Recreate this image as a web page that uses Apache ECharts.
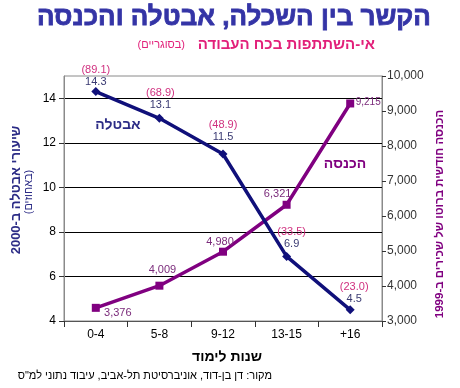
<!DOCTYPE html>
<html>
<head>
<meta charset="utf-8">
<script src="https://cdn.jsdelivr.net/npm/echarts@6/dist/echarts.min.js"></script>
<style>
html,body{margin:0;padding:0;background:#fff;}
#c{width:460px;height:388px;}
</style>
</head>
<body>
<div id="c"></div>
<script>
// ---- data ----
var categories = ['0-4', '5-8', '9-12', '13-15', '+16'];
var unemployment = [14.3, 13.1, 11.5, 6.9, 4.5];
var inactivity = [89.1, 68.9, 48.9, 33.5, 23.0];
var income = [3376, 4009, 4980, 6321, 9215];
var leftTicks = [4, 6, 8, 10, 12, 14];

// ---- label placement (style) ----
var unempLabelOffsets = [[0, -16], [1, -19], [0, -23], [5, -18], [4, -17]];
var incomeLabelOffsets = [[22, 5], [3, -16], [-3, -10], [-9, -11], [18, -1]];

var FONT = '"Liberation Sans", Arial, "DejaVu Sans", sans-serif';
var NAVY = '#10107a';
var PURPLE = '#800080';

function fmtInt(v) {
  return String(v).replace(/\B(?=(\d{3})+(?!\d))/g, ',');
}

var unempData = unemployment.map(function (v, i) {
  return {
    value: v,
    label: {
      show: true,
      position: 'inside',
      offset: unempLabelOffsets[i],
      formatter: '{p|(' + inactivity[i].toFixed(1) + ')}\n{v|' + v.toFixed(1) + '}',
      rich: {
        p: { color: '#d0307f', fontSize: 11, fontFamily: FONT, lineHeight: 12, align: 'center' },
        v: { color: '#3a3a72', fontSize: 11, fontFamily: FONT, lineHeight: 12, align: 'center' }
      }
    }
  };
});

var incomeData = income.map(function (v, i) {
  return {
    value: v,
    label: {
      show: true,
      position: 'inside',
      offset: incomeLabelOffsets[i],
      formatter: fmtInt(v),
      color: '#7a2a7a',
      fontSize: i === 4 ? 10 : 11,
      fontFamily: FONT
    }
  };
});

var chart = echarts.init(document.getElementById('c'), null, { renderer: 'canvas' });

chart.setOption({
  animation: false,
  backgroundColor: '#ffffff',
  grid: {
    left: 64, right: 78, top: 76, bottom: 67,
    show: true, borderColor: '#8a8a8a', borderWidth: 1, backgroundColor: 'transparent'
  },
  xAxis: {
    type: 'category',
    data: categories,
    boundaryGap: true,
    axisLine: { show: true, lineStyle: { color: '#555', width: 1 } },
    axisTick: { show: true, alignWithLabel: false, length: 6, lineStyle: { color: '#333' } },
    axisLabel: { color: '#000', fontSize: 12, fontFamily: FONT, margin: 8 },
    splitLine: { show: false }
  },
  yAxis: [
    {
      type: 'value',
      position: 'left',
      min: 4, max: 15, interval: 2,
      axisLine: { show: true, lineStyle: { color: '#8a8a8a' } },
      axisTick: { show: true, length: 5, lineStyle: { color: '#333' }, customValues: leftTicks },
      axisLabel: { color: '#000', fontSize: 12, fontFamily: FONT, margin: 8, customValues: leftTicks },
      splitLine: { show: true, showMinLine: false, lineStyle: { color: '#000', width: 1 } }
    },
    {
      type: 'value',
      position: 'right',
      min: 3000, max: 10000, interval: 1000,
      axisLine: { show: true, lineStyle: { color: '#8a8a8a' } },
      axisTick: { show: true, length: 4, lineStyle: { color: '#333' } },
      axisLabel: { color: '#333', fontSize: 12, fontFamily: FONT, margin: 5,
        formatter: function (v) { return fmtInt(v); } },
      splitLine: { show: false }
    }
  ],
  series: [
    {
      name: 'income',
      type: 'line',
      yAxisIndex: 1,
      data: incomeData,
      symbol: 'rect',
      symbolSize: 8,
      itemStyle: { color: PURPLE },
      lineStyle: { color: PURPLE, width: 3.5 },
      z: 3
    },
    {
      name: 'unemployment',
      type: 'line',
      yAxisIndex: 0,
      data: unempData,
      symbol: 'diamond',
      symbolSize: 9,
      itemStyle: { color: NAVY },
      lineStyle: { color: NAVY, width: 3.5 },
      z: 4
    }
  ],
  graphic: [
    { type: 'text', silent: true, z: 10,
      style: { text: 'הקשר בין השכלה, אבטלה והכנסה', x: 234, y: 18, textAlign: 'center', textVerticalAlign: 'middle',
        font: 'bold 26px ' + FONT, fill: '#3434a6', stroke: '#3434a6', lineWidth: 0.8,
        shadowColor: 'rgba(120,120,120,0.8)', shadowOffsetX: 2, shadowOffsetY: 2, shadowBlur: 1 } },
    { type: 'text', silent: true, z: 10,
      style: { text: 'אי-השתתפות בכח העבודה', x: 375, y: 45, textAlign: 'right', textVerticalAlign: 'middle',
        font: 'bold 15px ' + FONT, fill: '#e2207a' } },
    { type: 'text', silent: true, z: 10,
      style: { text: '(בסוגריים)', x: 185, y: 45, textAlign: 'right', textVerticalAlign: 'middle',
        font: '11px ' + FONT, fill: '#e2207a' } },
    { type: 'text', silent: true, z: 10, x: 16, y: 190, rotation: Math.PI / 2,
      style: { text: 'שיעורי אבטלה ב-2000', x: 0, y: 0, textAlign: 'center', textVerticalAlign: 'middle',
        font: 'bold 13px ' + FONT, fill: '#2c2c86' } },
    { type: 'text', silent: true, z: 10, x: 29, y: 192, rotation: Math.PI / 2,
      style: { text: '(באחוזים)', x: 0, y: 0, textAlign: 'center', textVerticalAlign: 'middle',
        font: '11px ' + FONT, fill: '#2c2c86' } },
    { type: 'text', silent: true, z: 10, x: 440, y: 214, rotation: Math.PI / 2,
      style: { text: 'הכנסה חודשית ברוטו של שכירים ב-1999', x: 0, y: 0, textAlign: 'center', textVerticalAlign: 'middle',
        font: 'bold 11.5px ' + FONT, fill: PURPLE } },
    { type: 'text', silent: true, z: 10,
      style: { text: 'אבטלה', x: 118, y: 125, textAlign: 'center', textVerticalAlign: 'middle',
        font: 'bold 14px ' + FONT, fill: '#2c2c86' } },
    { type: 'text', silent: true, z: 10,
      style: { text: 'הכנסה', x: 345, y: 164, textAlign: 'center', textVerticalAlign: 'middle',
        font: 'bold 14px ' + FONT, fill: PURPLE } },
    { type: 'text', silent: true, z: 10,
      style: { text: 'שנות לימוד', x: 227, y: 357, textAlign: 'center', textVerticalAlign: 'middle',
        font: 'bold 14px ' + FONT, fill: '#000' } },
    { type: 'text', silent: true, z: 10,
      style: { text: 'מקור: דן בן-דוד, אוניברסיטת תל-אביב, עיבוד נתוני למ"ס', x: 272, y: 376, textAlign: 'right', textVerticalAlign: 'middle',
        font: '11px ' + FONT, fill: '#000' } }
  ]
});
</script>
</body>
</html>
